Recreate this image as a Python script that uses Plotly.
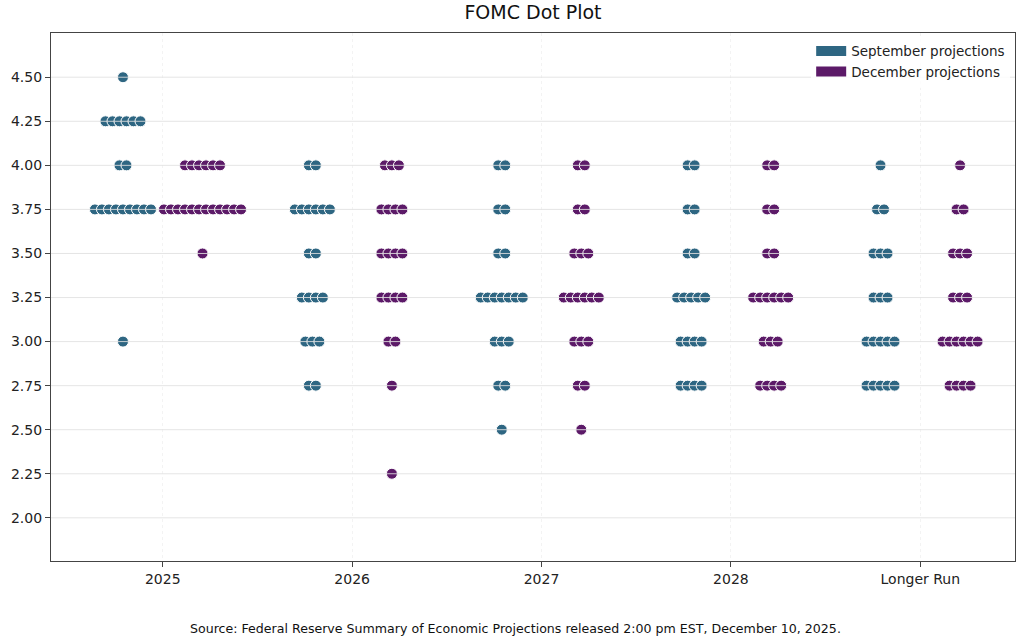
import plotly.graph_objects as go

periods = ["2025", "2026", "2027", "2028", "Longer Run"]
rates = [4.50, 4.25, 4.00, 3.75, 3.50, 3.25, 3.00, 2.75, 2.50, 2.25]

# number of participants at each rate (same order as `rates`)
sep_2025 = [1, 6, 2, 9, 0, 0, 1, 0, 0, 0]
sep_2026 = [0, 0, 2, 6, 2, 4, 3, 2, 0, 0]
sep_2027 = [0, 0, 2, 2, 2, 7, 3, 2, 1, 0]
sep_2028 = [0, 0, 2, 2, 2, 5, 4, 4, 0, 0]
sep_lr = [0, 0, 1, 2, 3, 3, 5, 5, 0, 0]

dec_2025 = [0, 0, 6, 12, 1, 0, 0, 0, 0, 0]
dec_2026 = [0, 0, 3, 4, 4, 4, 2, 1, 0, 1]
dec_2027 = [0, 0, 2, 2, 3, 6, 3, 2, 1, 0]
dec_2028 = [0, 0, 2, 2, 2, 6, 3, 4, 0, 0]
dec_lr = [0, 0, 1, 2, 3, 3, 6, 4, 0, 0]

sep_counts = [sep_2025, sep_2026, sep_2027, sep_2028, sep_lr]
dec_counts = [dec_2025, dec_2026, dec_2027, dec_2028, dec_lr]

ytick_vals = [2.00, 2.25, 2.50, 2.75, 3.00, 3.25, 3.50, 3.75, 4.00, 4.25, 4.50]

SEP_COLOR = "#2e6682"
DEC_COLOR = "#5c1a68"
OFFSET = 0.21
STEP = 0.037


def expand(counts_list, offset):
    xs, ys = [], []
    for i, counts in enumerate(counts_list):
        for r, n in zip(rates, counts):
            for k in range(n):
                xs.append(i + offset + (k - (n - 1) / 2) * STEP)
                ys.append(r)
    return xs, ys


fig = go.Figure()

for counts, off, color, name in [
    (sep_counts, -OFFSET, SEP_COLOR, "September projections"),
    (dec_counts, OFFSET, DEC_COLOR, "December projections"),
]:
    xs, ys = expand(counts, off)
    fig.add_trace(go.Scatter(
        x=xs, y=ys, mode="markers", showlegend=False, hoverinfo="y",
        marker=dict(size=11, color=color, line=dict(color="white", width=1)),
    ))
    # legend patch
    fig.add_trace(go.Scatter(
        x=[None], y=[None], mode="lines", name=name,
        line=dict(color=color, width=12),
    ))

# horizontal gridlines drawn above the dots
for v in ytick_vals:
    fig.add_shape(type="line", xref="paper", x0=0, x1=1, yref="y", y0=v, y1=v,
                  line=dict(color="rgba(225,225,225,0.85)", width=1), layer="above")

fig.update_layout(
    width=1024, height=639,
    margin=dict(l=51, r=9, t=33, b=78),
    paper_bgcolor="white", plot_bgcolor="white",
    font=dict(family="DejaVu Sans", size=14, color="#222"),
    title=dict(text="FOMC Dot Plot", xref="paper", x=0.5, xanchor="center",
               y=0.981, yanchor="middle", font=dict(size=19, color="#111")),
    legend=dict(x=0.995, xanchor="right", y=0.995, yanchor="top",
                bgcolor="rgba(255,255,255,0.8)", borderwidth=0,
                font=dict(size=13.5, color="#222"), itemwidth=30, tracegroupgap=0),
    annotations=[dict(
        text="Source: Federal Reserve Summary of Economic Projections released 2:00 pm EST, December 10, 2025.",
        xref="paper", yref="paper", x=0.482, xanchor="center", y=-0.127, yanchor="middle",
        showarrow=False, font=dict(size=12.6, color="#111"),
    )],
)

fig.update_xaxes(
    range=[-0.59, 4.5], tickmode="array", tickvals=list(range(len(periods))), ticktext=periods,
    showgrid=True, gridcolor="#f3f3f3", griddash="dot", gridwidth=1,
    showline=True, linecolor="#444", linewidth=1.2, mirror=True,
    ticks="outside", ticklen=5, tickcolor="#444", zeroline=False, automargin=False,
    tickfont=dict(size=14),
)
fig.update_yaxes(
    range=[1.755, 4.751], tickmode="array", tickvals=ytick_vals,
    ticktext=[f"{v:.2f}" for v in ytick_vals],
    showgrid=False,
    showline=True, linecolor="#444", linewidth=1.2, mirror=True,
    ticks="outside", ticklen=5, tickcolor="#444", zeroline=False, automargin=False,
    tickfont=dict(size=14),
)

fig.write_html("out.html", config={"displayModeBar": False},
               post_script="document.body.style.margin='0';")
